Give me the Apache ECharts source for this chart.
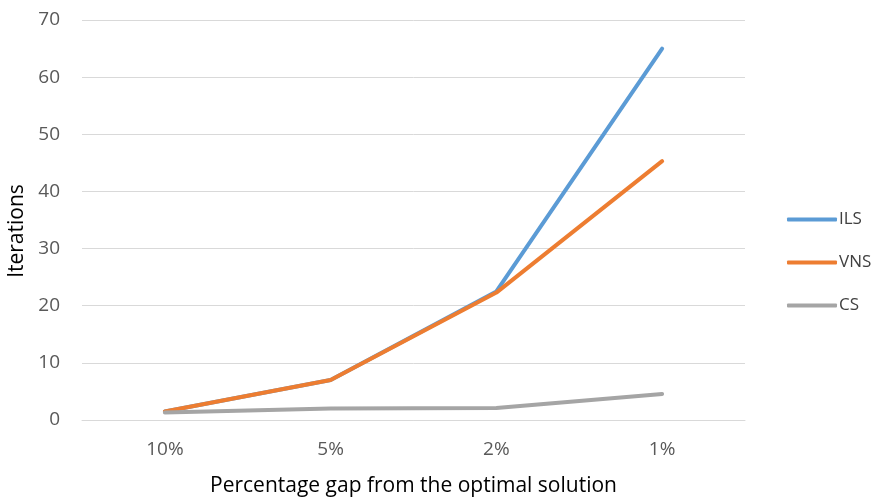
<!DOCTYPE html>
<html>
<head>
<meta charset="utf-8">
<script src="https://cdn.jsdelivr.net/npm/echarts@6/dist/echarts.min.js"></script>
<style>html,body{margin:0;padding:0;background:#fff;}#c{width:877px;height:500px;}</style>
</head>
<body>
<div id="c"></div>
<script>
const categories = ['10%', '5%', '2%', '1%'];
const ils = [1.5, 7, 22.5, 65];
const vns = [1.5, 7, 22.3, 45.3];
const cs = [1.3, 2.0, 2.1, 4.55];
const yTicks = [0, 10, 20, 30, 40, 50, 60, 70];

const chart = echarts.init(document.getElementById('c'));
const font = '"Open Sans", "Liberation Sans", sans-serif';
function mk(name, data, color) {
  return {
    name, type: 'line', data, showSymbol: false, symbol: 'none',
    lineStyle: { color, width: 4, cap: 'round', join: 'round' },
    itemStyle: { color }
  };
}
chart.setOption({
  animation: false,
  backgroundColor: '#fff',
  grid: { left: 82, right: 132, top: 20, bottom: 80, containLabel: false, outerBoundsMode: 'none' },
  legend: {
    orient: 'vertical', left: 782, top: 206,
    itemWidth: 50, itemHeight: 4, itemGap: 26,
    icon: 'roundRect',
    textStyle: { fontFamily: font, fontSize: 17, color: '#404040', padding: [0, 0, 0, -3] },
    data: ['ILS', 'VNS', 'CS']
  },
  xAxis: {
    type: 'category', data: categories, boundaryGap: true,
    name: 'Percentage gap from the optimal solution',
    nameLocation: 'middle', nameGap: 56,
    nameTextStyle: { fontFamily: font, fontSize: 21, color: '#000' },
    axisLine: { show: true, lineStyle: { color: '#d9d9d9', width: 1 } },
    axisTick: { show: false },
    axisLabel: { fontFamily: font, fontSize: 19, color: '#595959', margin: 20 }
  },
  yAxis: {
    type: 'value', min: 0, max: 70, interval: 10,
    name: 'Iterations', nameLocation: 'middle', nameGap: 51, nameRotate: 90,
    nameTextStyle: { fontFamily: font, fontSize: 21, color: '#000', padding: [0, 22, 0, 0] },
    axisLine: { show: false }, axisTick: { show: false },
    axisLabel: { fontFamily: font, fontSize: 19, color: '#595959', margin: 22,
      formatter: v => yTicks.includes(v) ? String(v) : '' },
    splitLine: { lineStyle: { color: '#d9d9d9', width: 1 } }
  },
  series: [
    mk('ILS', ils, '#5b9bd5'),
    mk('VNS', vns, '#ed7d31'),
    mk('CS', cs, '#a5a5a5')
  ]
});
</script>
</body>
</html>
